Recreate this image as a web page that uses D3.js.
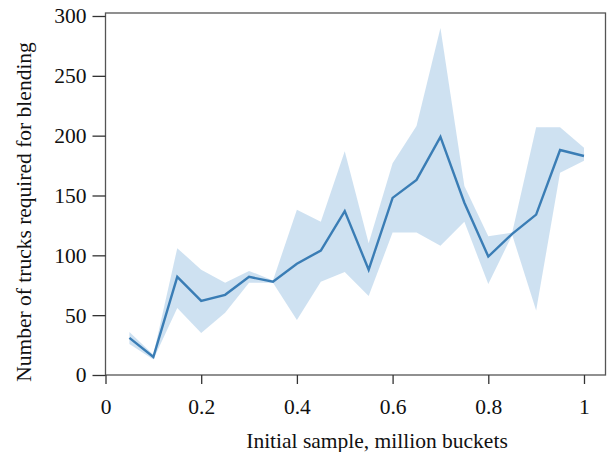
<!DOCTYPE html>
<html>
<head>
<meta charset="utf-8">
<script src="https://cdn.jsdelivr.net/npm/d3@7"></script>
<style>
  body { margin: 0; background: #fff; }
  svg text { font-family: "Liberation Serif", "Times New Roman", serif; fill: #111; }
</style>
</head>
<body>
<div id="chart"></div>
<script>
// sample sizes (million buckets)
const samples = [0.05, 0.1, 0.15, 0.2, 0.25, 0.3, 0.35, 0.4, 0.45, 0.5,
                 0.55, 0.6, 0.65, 0.7, 0.75, 0.8, 0.85, 0.9, 0.95, 1.0];
const meanTrucks = [31, 15, 82, 62, 67, 82, 78, 93, 104, 137,
                    88, 148, 163, 199, 144, 99, 118, 134, 188, 183];
const upperTrucks = [36, 17, 106, 88, 77, 87, 79, 138, 128, 187,
                     110, 177, 208, 290, 158, 116, 119, 207, 207, 190];
const lowerTrucks = [26, 13, 56, 35, 52, 77, 77, 46, 78, 86,
                     66, 119, 119, 108, 128, 76, 117, 54, 169, 179];
const xTicks = [0, 0.2, 0.4, 0.6, 0.8, 1];
const yTicks = [0, 50, 100, 150, 200, 250, 300];

const W = 607, H = 452;
const x0 = 105.5, x1 = 606, yTop = 13, yBot = 375;
const fs = 21.5;
const serif = "'Liberation Serif', 'Times New Roman', serif";

const svg = d3.select("#chart").append("svg")
  .attr("width", W).attr("height", H)
  .style("font-family", serif);

const xScale = d3.scaleLinear().domain([0, 1.046]).range([x0, x1]);
const yScale = d3.scaleLinear().domain([0, 302.5]).range([yBot, yTop]);

const data = samples.map((s, i) => ({
  s, mean: meanTrucks[i], hi: upperTrucks[i], lo: lowerTrucks[i]
}));

// confidence band
svg.append("path")
  .datum(data)
  .attr("fill", "#c5dcee")
  .attr("fill-opacity", 0.85)
  .attr("d", d3.area()
    .x(d => xScale(d.s))
    .y0(d => yScale(d.lo))
    .y1(d => yScale(d.hi)));

// mean line
svg.append("path")
  .datum(data)
  .attr("fill", "none")
  .attr("stroke", "#3a7db5")
  .attr("stroke-width", 2.4)
  .attr("d", d3.line()
    .x(d => xScale(d.s))
    .y(d => yScale(d.mean)));

// frame
svg.append("rect")
  .attr("x", x0).attr("y", yTop)
  .attr("width", x1 - x0 - 0.5).attr("height", yBot - yTop)
  .attr("fill", "none")
  .attr("stroke", "#555")
  .attr("stroke-width", 1.3);

// axes
const xAxis = svg.append("g")
  .attr("transform", `translate(0,${yBot})`)
  .call(d3.axisBottom(xScale).tickValues(xTicks).tickSize(9).tickPadding(15)
    .tickFormat(d => d === 0 || d === 1 ? d3.format("d")(d) : d3.format(".1f")(d)));
xAxis.attr("font-family", null).attr("font-size", fs);
xAxis.select(".domain").remove();
xAxis.selectAll("line").attr("stroke", "#333").attr("stroke-width", 1.3);
xAxis.selectAll("text").style("font-family", serif).attr("font-size", fs);

const yAxis = svg.append("g")
  .attr("transform", `translate(${x0},0)`)
  .call(d3.axisLeft(yScale).tickValues(yTicks).tickSize(13).tickPadding(6));
yAxis.attr("font-family", null).attr("font-size", fs);
yAxis.select(".domain").remove();
yAxis.selectAll("line").attr("stroke", "#333").attr("stroke-width", 1.3);
yAxis.selectAll("text").style("font-family", serif).attr("font-size", fs);

// axis titles
svg.append("text")
  .attr("x", 377).attr("y", 448)
  .attr("text-anchor", "middle")
  .attr("font-size", fs)
  .text("Initial sample, million buckets");

svg.append("text")
  .attr("transform", "translate(31,212) rotate(-90)")
  .attr("text-anchor", "middle")
  .attr("font-size", fs)
  .text("Number of trucks required for blending");
</script>
</body>
</html>
